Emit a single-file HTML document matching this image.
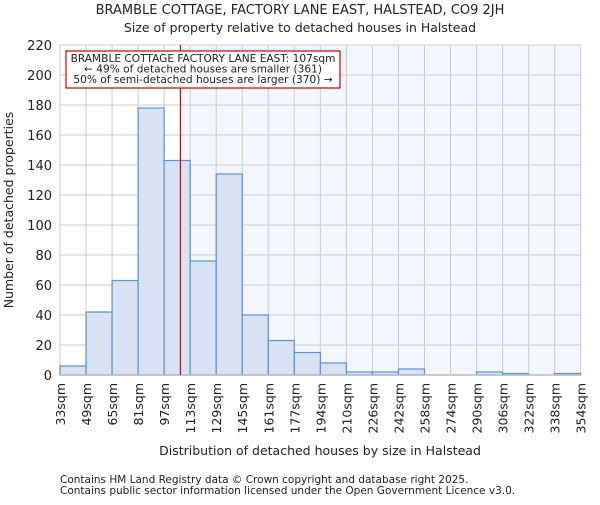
<!DOCTYPE html>
<html><head><meta charset="utf-8"><style>
body{margin:0;background:#fff;font-family:"Liberation Sans","DejaVu Sans",sans-serif}
svg text{font-family:"DejaVu Sans","Liberation Sans",sans-serif;fill:#222}
</style></head><body>
<svg id="chart" width="600" height="500" xmlns="http://www.w3.org/2000/svg">
<text x="300" y="14" text-anchor="middle" font-size="13">BRAMBLE COTTAGE, FACTORY LANE EAST, HALSTEAD, CO9 2JH</text>
<text x="300" y="32" text-anchor="middle" font-size="12.5">Size of property relative to detached houses in Halstead</text>
<g id="plot"></g>
<text x="320" y="455" text-anchor="middle" font-size="12.5">Distribution of detached houses by size in Halstead</text>
<text transform="translate(13,210) rotate(-90)" text-anchor="middle" font-size="12.5">Number of detached properties</text>
<text x="60" y="483" font-size="10.5" fill="#444">Contains HM Land Registry data © Crown copyright and database right 2025.</text>
<text x="60" y="494" font-size="10.5" fill="#444">Contains public sector information licensed under the Open Government Licence v3.0.</text>
</svg>
<script>
const binLabels=["33sqm","49sqm","65sqm","81sqm","97sqm","113sqm","129sqm","145sqm","161sqm","177sqm","194sqm","210sqm","226sqm","242sqm","258sqm","274sqm","290sqm","306sqm","322sqm","338sqm","354sqm"];
const counts=[6,42,63,178,143,76,134,40,23,15,8,2,2,4,0,0,2,1,0,1];
const yTicks=[0,20,40,60,80,100,120,140,160,180,200,220];
const propertyIndex=4.625; // 107sqm within bin 97-113
const NS="http://www.w3.org/2000/svg";
const X0=60,X1=580.7,Y0=375,Y1=45,YMAX=220;
const nb=counts.length;
const xs=i=>X0+(X1-X0)*i/nb;
const ys=v=>Y0-(Y0-Y1)*v/YMAX;
const g=document.getElementById('plot');
function mk(t,a){const e=document.createElementNS(NS,t);for(const k in a)e.setAttribute(k,a[k]);g.appendChild(e);return e;}
const lx=xs(propertyIndex);
let r=mk('rect',{x:lx,y:Y1,width:X1-lx,height:Y0-Y1,fill:'#f3f6fd'});


for(let i=0;i<=nb;i++){let l=mk('line',{x1:xs(i),x2:xs(i),y1:Y1,y2:Y0,stroke:'#cccccc','stroke-width':1});

}
yTicks.forEach(v=>{let l=mk('line',{x1:X0,x2:X1,y1:ys(v),y2:ys(v),stroke:'#cccccc','stroke-width':1});


let t=mk('text',{x:X0-8,y:ys(v)+5,'text-anchor':'end','font-size':13});t.textContent=v;

});
counts.forEach((c,i)=>{if(c<=0)return;let b=mk('rect',{x:xs(i),y:ys(c),width:xs(i+1)-xs(i),height:Y0-ys(c),fill:'#d8e2f3',stroke:'#5b8fd6','stroke-width':1.2});

});
binLabels.forEach((s,i)=>{let t=mk('text',{transform:`translate(${xs(i)+5},383) rotate(-90)`,'text-anchor':'end','font-size':12.5});t.textContent=s;

});
let ax=mk('line',{x1:X0,x2:X1,y1:Y0,y2:Y0,stroke:'#bbbbbb','stroke-width':1.5});


let rl=mk('line',{x1:lx,x2:lx,y1:Y1,y2:Y0,stroke:'#dd0000','stroke-width':1.2});


let box=mk('rect',{x:66,y:51,width:274,height:37,fill:'#fff',stroke:'#cc0000','stroke-width':1.2});


["BRAMBLE COTTAGE FACTORY LANE EAST: 107sqm","← 49% of detached houses are smaller (361)","50% of semi-detached houses are larger (370) →"].forEach((s,i)=>{
let t=mk('text',{x:203,y:62+i*10.5,'text-anchor':'middle','font-size':10.6});t.textContent=s;

});
</script>
</body></html>
